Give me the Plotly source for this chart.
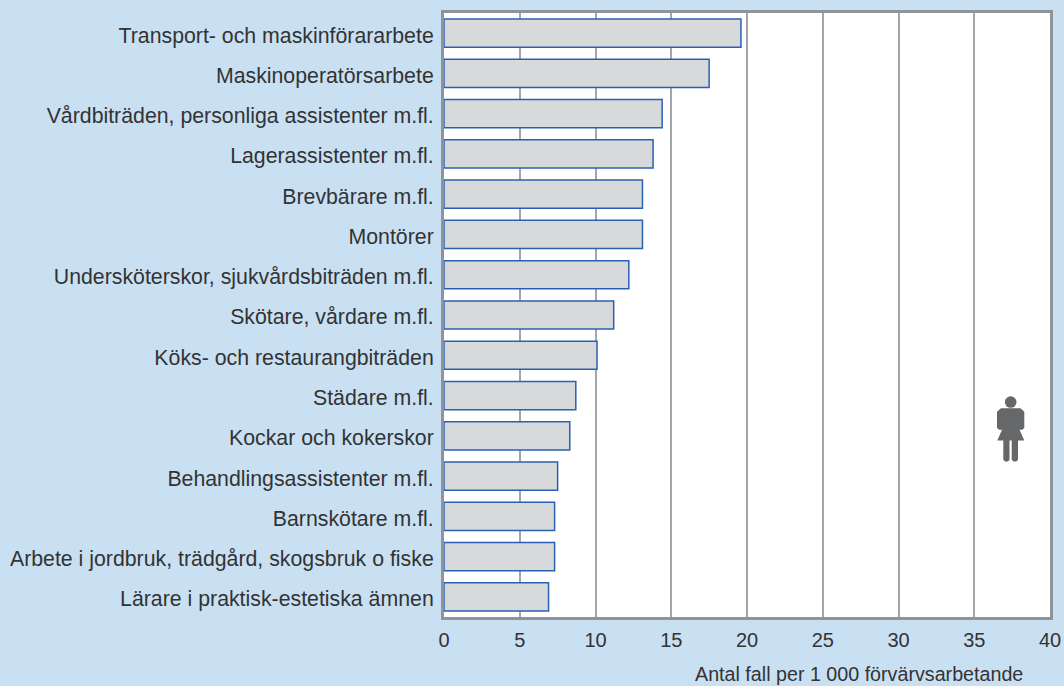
import plotly.graph_objects as go

categories = [
    "Transport- och maskinförararbete", "Maskinoperatörsarbete",
    "Vårdbiträden, personliga assistenter m.fl.", "Lagerassistenter m.fl.",
    "Brevbärare m.fl.", "Montörer", "Undersköterskor, sjukvårdsbiträden m.fl.",
    "Skötare, vårdare m.fl.", "Köks- och restaurangbiträden", "Städare m.fl.",
    "Kockar och kokerskor", "Behandlingsassistenter m.fl.", "Barnskötare m.fl.",
    "Arbete i jordbruk, trädgård, skogsbruk o fiske", "Lärare i praktisk-estetiska ämnen",
]
values = [19.6, 17.5, 14.4, 13.8, 13.1, 13.1, 12.2, 11.2, 10.1, 8.7, 8.3, 7.5, 7.3, 7.3, 6.9]
x_ticks = [0, 5, 10, 15, 20, 25, 30, 35, 40]
x_note = "Antal fall per 1 000 förvärvsarbetande"

W, H = 1064, 686
L, R, T, B = 444, 1050, 12.5, 617.5
BG = "#c9e0f3"
TXT = "#333333"
FONT = "Liberation Sans, Arial, sans-serif"

def px(x):
    return (x - L) / (R - L)

def py(y):
    return (B - y) / (B - T)

def path(points):
    return "M" + " L".join(f"{px(a):.5f},{py(b):.5f}" for a, b in points) + " Z"

ICON = "#666769"
icon_parts = [
    [(1001, 408.5), (1020.5, 408.5), (1024.3, 412), (1024.3, 428), (1022.5, 430), (1019.5, 430),
     (1024.3, 440.7), (1018, 440.7),
     (1018, 460), (1016.5, 461.7), (1013.5, 461.7), (1011.7, 460), (1011.7, 440.7), (1009.5, 440.7),
     (1009.5, 460), (1008, 461.7), (1005, 461.7), (1003.3, 460), (1003.3, 440.7), (997.3, 440.7),
     (1002, 430), (999, 430), (997, 428), (997, 412)],
]
shapes = [dict(type="path", xref="paper", yref="paper", path=path(p), fillcolor=ICON,
               line=dict(width=0), layer="above") for p in icon_parts]
shapes.append(dict(type="circle", xref="paper", yref="paper", x0=px(1004.9), x1=px(1016.5),
                   y0=py(408), y1=py(396.5), fillcolor=ICON, line=dict(width=0)))

fig = go.Figure(go.Bar(
    y=categories, x=values, orientation="h",
    marker=dict(color="#d8d9db", line=dict(color="#2a60b4", width=1.5)),
    width=0.7, hoverinfo="x+y",
))
fig.update_layout(
    width=W, height=H, autosize=False,
    margin=dict(l=L, r=W - R, t=T, b=H - B, autoexpand=False),
    paper_bgcolor=BG, plot_bgcolor="white",
    font=dict(family=FONT, size=20, color=TXT),
    showlegend=False, shapes=shapes,
    annotations=[dict(text=x_note, xref="paper", yref="paper", x=px(1025), y=py(675),
                      xanchor="right", yanchor="middle", showarrow=False,
                      font=dict(family=FONT, size=19.7, color=TXT))],
)
fig.update_xaxes(
    range=[0, 40], tickvals=x_ticks, ticktext=[str(v) for v in x_ticks],
    showgrid=True, gridcolor="#a3a7ab", gridwidth=1.5, zeroline=False,
    showline=True, linecolor="#8f9498", linewidth=3, mirror=True,
    ticks="outside", ticklen=3, tickcolor="rgba(0,0,0,0)", layer="below traces",
    tickfont=dict(family=FONT, size=20, color=TXT),
)
fig.update_yaxes(
    categoryorder="array", categoryarray=categories,
    range=[14.5, -0.5], autorange=False, showgrid=False, zeroline=False,
    showline=True, linecolor="#8f9498", linewidth=3, mirror=True,
    ticks="outside", ticklen=3, tickcolor="rgba(0,0,0,0)", layer="below traces",
    tickfont=dict(family=FONT, size=21.3, color=TXT),
    ticklabelshift=-2,
)
fig.write_html("out.html", config=dict(displayModeBar=False),
               post_script="document.body.style.margin='0';")
